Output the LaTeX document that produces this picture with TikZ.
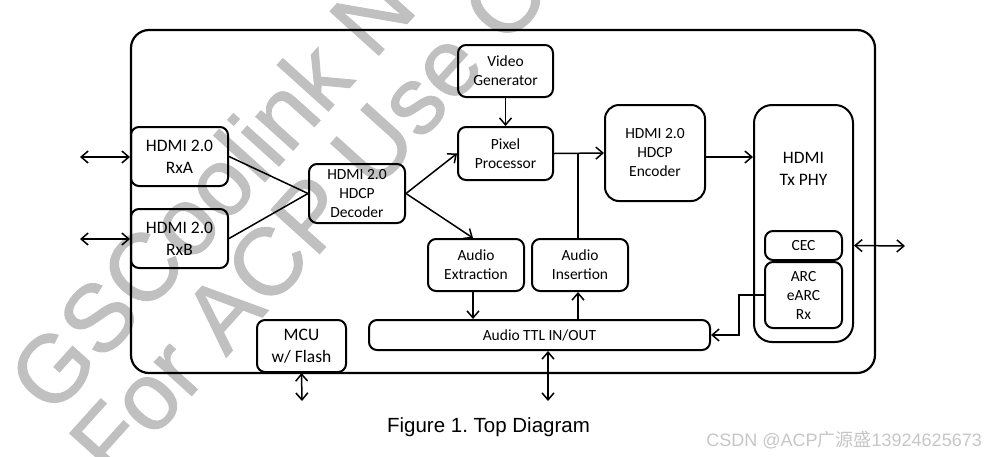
\documentclass[tikz,border=0pt]{standalone}
\usepackage{fontspec}
\setmainfont{Carlito}
\newfontfamily\capfont{Liberation Sans}
\newfontfamily\wmfont[FakeBold=1.2]{Liberation Sans}
\newfontfamily\cjkfont{Noto Sans CJK SC}
\usetikzlibrary{arrows.meta,calc,positioning}
\definecolor{wmgray}{RGB}{192,192,192}
\definecolor{csdngray}{RGB}{198,198,198}
\tikzset{
  blk/.style={draw, line width=2pt, rounded corners=8pt, inner sep=0pt,
    align=center, font=\fontsize{15.5}{19}\selectfont},
  bigtxt/.style={font=\fontsize{17.5}{22}\selectfont},
  wmark/.style={rotate=48, anchor=base west, inner sep=0pt, text=wmgray,
    font=\wmfont\fontsize{95}{95}\selectfont},
  conn/.style={line width=1.5pt},
  arr/.style={conn, -{Straight Barb[length=7pt,width=12pt]}},
  dbl/.style={conn, {Straight Barb[length=7pt,width=12pt]}-{Straight Barb[length=7pt,width=12pt]}},
}

\begin{document}
\begin{tikzpicture}[x=1pt, y=-1pt]
  \useasboundingbox (0,0) rectangle (984,456);

  % Watermark
  \begin{scope}
    \clip (0,0) rectangle (984,456);
    \node[wmark] (wmone) at (52,418) {GSCoolink N};
    \node[wmark] (wmtwo) at (113,483) {For ACP Use O};
  \end{scope}

  % Chip outline
  \draw[line width=2.2pt, rounded corners=18pt] (131,30) rectangle (875,373);

  % Receivers and decoder
  \node[blk, bigtxt, minimum width=97pt, minimum height=59pt] (rxa) at (179.5,156.5) {HDMI 2.0\\RxA};
  \node[blk, bigtxt, minimum width=97pt, minimum height=59pt] (rxb) at (179.5,238.5) {HDMI 2.0\\RxB};
  \node[blk, minimum width=96pt, minimum height=59pt] (dec) at (357,193.5) {HDMI 2.0\\HDCP\\Decoder};

  % Video path
  \node[blk, minimum width=95pt, minimum height=52pt] (vgen) at (505.5,71) {Video\\Generator};
  \node[blk, minimum width=95pt, minimum height=53pt] (pix) at (505.5,153.5) {Pixel\\Processor};
  \node[blk, rounded corners=14pt, minimum width=100pt, minimum height=96pt] (enc) at (655,153) {HDMI 2.0\\HDCP\\Encoder};

  % Tx PHY
  \node[blk, rounded corners=18pt, minimum width=99pt, minimum height=237pt] (phy) at (803.5,223.5) {};
  \node[bigtxt, align=center, inner sep=0pt] (phytxt) at (803.5,169) {HDMI\\Tx PHY};
  \node[blk, minimum width=77pt, minimum height=29pt] (cec) at (803.5,245.5) {CEC};
  \node[blk, minimum width=77pt, minimum height=66pt] (arc) at (803.5,295) {ARC\\eARC\\Rx};

  % Audio
  \node[blk, minimum width=96pt, minimum height=52pt] (aext) at (476,265) {Audio\\Extraction};
  \node[blk, minimum width=96pt, minimum height=52pt] (ains) at (580,265) {Audio\\Insertion};
  \node[blk, minimum width=341pt, minimum height=30pt] (ttl) at (539.5,335) {Audio TTL IN/OUT};
  \node[blk, bigtxt, minimum width=89pt, minimum height=52pt] (mcu) at (301.5,346) {MCU\\w/ Flash};

  % Free ends
  \coordinate (ina) at (80,157);
  \coordinate (inb) at (80,239);
  \coordinate (cecout) at (905,246);
  \coordinate (ttlout) at (548,401);
  \coordinate (mcuout) at (302,401);

  % Connectors
  \draw[dbl] (ina) -- (ina -| rxa.west);
  \draw[dbl] (inb) -- (inb -| rxb.west);
  \draw[conn] (rxa.east) -- (dec.west);
  \draw[conn] (rxb.east) -- (dec.west);
  \draw[arr] (dec.east) -- (pix.west);
  \draw[arr] (dec.east) -- ($(aext.north)+(-3,0)$);
  \draw[arr] (vgen.south) -- (pix.north);
  \draw[arr] (pix.east) -- (enc.west);
  \draw[conn] (ains.north -| 578,0) -- (578,153);
  \draw[arr] ($(enc.east)+(0,4)$) -- ($(enc.east -| phy.west)+(0,4)$);
  \draw[arr] ($(aext.south)+(-3,0)$) -- ($(aext.south |- ttl.north)+(-3,0)$);
  \draw[arr] ($(ains.south |- ttl.north)+(-2,0)$) -- ($(ains.south)+(-2,0)$);
  \draw[arr] (arc.west) -- ++(-25,0) |- (ttl.east);
  \draw[dbl] (cec.east -| phy.east) -- (cecout);
  \draw[dbl] (ttlout |- ttl.south) -- (ttlout);
  \draw[dbl] (mcu.south) -- (mcuout);

  % Caption
  \node[anchor=base, inner sep=0pt, font=\capfont\fontsize{20.5}{24}\selectfont] (cap) at (488.5,432) {\frenchspacing Figure 1. Top Diagram};
  \node[anchor=base east, inner sep=0pt, text=csdngray, font=\capfont\fontsize{18}{22}\selectfont] (csdn) at (982,446)
    {CSDN @ACP{\cjkfont 广源盛}13924625673};
\end{tikzpicture}
\end{document}
